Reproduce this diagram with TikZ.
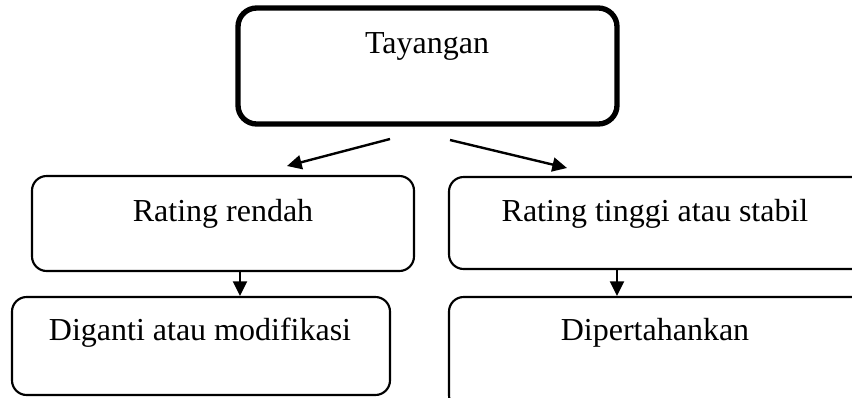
\documentclass[tikz,border=0pt]{standalone}
\usepackage{fontspec}
\setmainfont{Liberation Serif}
\usetikzlibrary{arrows.meta}
\begin{document}
\begin{tikzpicture}[x=0.75pt,y=-0.75pt,
  thinbox/.style={draw=black,line width=1.6pt,rounded corners=11pt,inner sep=0pt},
  thickbox/.style={draw=black,line width=4pt,rounded corners=14pt,inner sep=0pt},
  lbl/.style={font=\fontsize{24pt}{28pt}\selectfont,anchor=base,inner sep=0pt},
  arr/.style={line width=1.8pt,-{Triangle[length=11pt,width=10.5pt]}}]
\useasboundingbox (0,0) rectangle (852,397);
% boxes
\node[thickbox,minimum width=284.25pt,minimum height=87pt] (top) at (427.5,66) {};
\node[thinbox,minimum width=286.5pt,minimum height=71.25pt] (ml) at (223,223.5) {};
\node[thinbox,minimum width=315.75pt,minimum height=69pt] (mr) at (659.5,223) {};
\node[thinbox,minimum width=283.5pt,minimum height=73.5pt] (bl) at (201,346) {};
\node[thinbox,minimum width=315.75pt,minimum height=84.75pt] (br) at (659.5,353.5) {};
% labels
\node[lbl] (tTop) at (427,53) {Tayangan};
\node[lbl] (tMl) at (223,221) {Rating rendah};
\node[lbl] (tMr) at (655,221) {Rating tinggi atau stabil};
\node[lbl] (tBl) at (200,340) {Diganti atau modifikasi};
\node[lbl] (tBr) at (655,340) {Dipertahankan};
% connector ends
\coordinate (a1s) at (390,139);
\coordinate (a1e) at (287,166);
\coordinate (a2s) at (450,140);
\coordinate (a2e) at (567,168);
\coordinate (a3) at (240,0);
\coordinate (a4) at (617,0);
\draw[arr] (a1s) -- (a1e);
\draw[arr] (a2s) -- (a2e);
\draw[arr] (ml.south -| a3) -- (bl.north -| a3);
\draw[arr] (mr.south -| a4) -- (br.north -| a4);
\end{tikzpicture}
\end{document}
